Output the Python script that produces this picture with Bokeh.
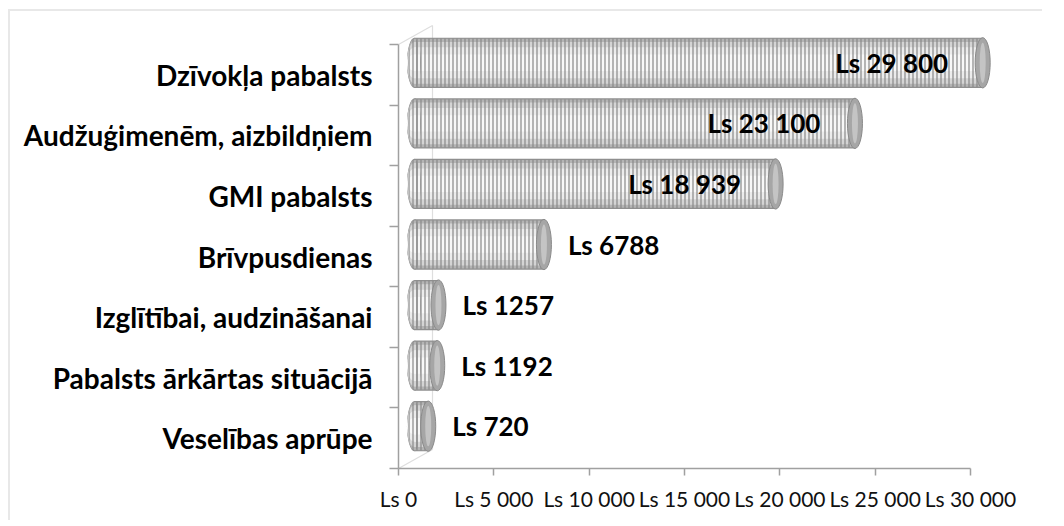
from bokeh.plotting import figure
from bokeh.models import Range1d, FixedTicker, ColumnDataSource
from bokeh.core.properties import value
from bokeh.embed import file_html
from bokeh.resources import INLINE

# ---- data ----
categories = ["Dzīvokļa pabalsts", "Audžuģimenēm, aizbildņiem", "GMI pabalsts",
              "Brīvpusdienas", "Izglītībai, audzināšanai",
              "Pabalsts ārkārtas situācijā", "Veselības aprūpe"]
values = [29800, 23100, 18939, 6788, 1257, 1192, 720]
value_labels = ["Ls 29 800", "Ls 23 100", "Ls 18 939", "Ls 6788", "Ls 1257", "Ls 1192", "Ls 720"]
x_ticks = [0, 5000, 10000, 15000, 20000, 25000, 30000]
x_tick_labels = ["Ls 0", "Ls 5 000", "Ls 10 000", "Ls 15 000", "Ls 20 000", "Ls 25 000", "Ls 30 000"]

# ---- layout constants ----
XMAX = 30000
FRAME_W, FRAME_H = 640, 448
AXIS_PX = 572           # pixels from 0 to XMAX
BAND_PX = 424           # pixels for 7 category bands
n = len(categories)
x_end = FRAME_W / AXIS_PX * XMAX
y_end = FRAME_H / BAND_PX * n
ux = XMAX / AXIS_PX      # data per px in x
uy = n / BAND_PX         # data per px in y

BAR_DX, BAR_DY = 16, 12      # 3D offset of the bars (px)
WALL_DX, WALL_DY = 34, 19    # depth of the side wall (px)
CAP_W = 15

FONT = "Lato"

p = figure(frame_width=FRAME_W, frame_height=FRAME_H,
           x_range=Range1d(0, x_end), y_range=Range1d(0, y_end),
           output_backend="svg", toolbar_location=None,
           min_border_left=388, min_border_right=4, min_border_top=9, min_border_bottom=52)
p.styles = {"margin-left": "8px", "margin-top": "9px",
            "border-left": "2px solid #e8e8e8", "border-top": "2px solid #e8e8e8"}
p.outline_line_color = None
p.xgrid.visible = False
p.ygrid.visible = False
p.background_fill_color = "white"
p.border_fill_color = "white"

p.extra_x_ranges = {"bar": Range1d(-BAR_DX * ux, x_end - BAR_DX * ux)}
p.extra_y_ranges = {"bar": Range1d(-BAR_DY * uy, y_end - BAR_DY * uy)}

# ---- 3D side wall ----
wall = ColumnDataSource(dict(
    x0=[0, 0, WALL_DX * ux],
    y0=[0, n, n + WALL_DY * uy],
    x1=[WALL_DX * ux, WALL_DX * ux, WALL_DX * ux],
    y1=[WALL_DY * uy, n + WALL_DY * uy, WALL_DY * uy]))
p.segment("x0", "y0", "x1", "y1", source=wall, line_color="#dedede", line_width=1.2)

# ---- cylinders ----
ys = [n - i - 0.5 for i in range(n)]
src = ColumnDataSource(dict(y=ys, v=values, zero=[0] * n, lab=value_labels))
H = 0.83
layers = [(H, "#8f8f8f"), (H - 0.04, "#b4b4b4"), (H - 0.14, "#d4d4d4"),
          (H - 0.32, "#ececec"), (H - 0.56, "#f8f8f8")]
for h, c in layers:
    p.hbar(y="y", left="zero", right="v", height=h, source=src, fill_color=c,
           line_color=None, x_range_name="bar", y_range_name="bar")
    p.ellipse(x="zero", y="y", width=CAP_W, height=h, width_units="screen", source=src,
              fill_color=c, line_color=None, x_range_name="bar", y_range_name="bar")
# stripes
stripe = dict(fill_alpha=0, line_color=None, hatch_pattern="|", hatch_color="#878787",
              hatch_alpha=0.75, hatch_scale=4, hatch_weight=1.6,
              x_range_name="bar", y_range_name="bar")
p.hbar(y="y", left="zero", right="v", height=H - 0.03, source=src, **stripe)
p.ellipse(x="zero", y="y", width=CAP_W - 2, height=H - 0.03, width_units="screen",
          source=src, **stripe)
# end caps
p.ellipse(x="v", y="y", width=CAP_W, height=H, width_units="screen", source=src,
          fill_color="#a6a6a6", line_color="#8a8a8a", line_width=1,
          x_range_name="bar", y_range_name="bar")
p.ellipse(x="v", y="y", width=6, height=H * 0.8, width_units="screen", source=src,
          fill_color="#c4c4c4", line_color=None, x_range_name="bar", y_range_name="bar")

# ---- value labels ----
inside = [v > 10000 for v in values]
src_in = ColumnDataSource(dict(y=[ys[i] for i in range(n) if inside[i]],
                               v=[values[i] for i in range(n) if inside[i]],
                               lab=[value_labels[i] for i in range(n) if inside[i]]))
src_out = ColumnDataSource(dict(y=[ys[i] for i in range(n) if not inside[i]],
                                v=[values[i] for i in range(n) if not inside[i]],
                                lab=[value_labels[i] for i in range(n) if not inside[i]]))
common = dict(text="lab", text_font=value(FONT), text_font_style="bold",
              text_font_size="26px", text_color="#000000", text_baseline="middle",
              x_range_name="bar", y_range_name="bar")
p.text(x="v", y="y", source=src_in, text_align="center", x_offset=-91, **common)
p.text(x="v", y="y", source=src_out, text_align="left", x_offset=24, **common)

# ---- axes ----
xa = p.xaxis[0]
xa.ticker = FixedTicker(ticks=x_ticks)
xa.major_label_overrides = {t: l for t, l in zip(x_ticks, x_tick_labels)}
xa.bounds = (0, XMAX)
xa.axis_line_color = "#a0a0a0"
xa.axis_line_width = 1.5
xa.major_tick_line_color = "#a0a0a0"
xa.major_tick_line_width = 1.5
xa.major_tick_out = 7
xa.major_tick_in = 0
xa.minor_tick_line_color = None
xa.major_label_standoff = 10
xa.major_label_text_font = FONT
xa.major_label_text_font_size = "21px"
xa.major_label_text_color = "#111111"

ya = p.yaxis[0]
ya.ticker = FixedTicker(ticks=ys, minor_ticks=list(range(n + 1)))
ya.major_label_overrides = {y: c for y, c in zip(ys, categories)}
ya.bounds = (0, n)
ya.axis_line_color = "#a0a0a0"
ya.axis_line_width = 1.5
ya.major_tick_line_color = None
ya.minor_tick_line_color = "#a0a0a0"
ya.minor_tick_line_width = 1.5
ya.minor_tick_out = 9
ya.minor_tick_in = 0
ya.major_label_standoff = 17
ya.major_label_text_font = FONT
ya.major_label_text_font_style = "bold"
ya.major_label_text_font_size = "28px"
ya.major_label_text_color = "#000000"

open("out.html", "w").write(file_html(p, INLINE))
